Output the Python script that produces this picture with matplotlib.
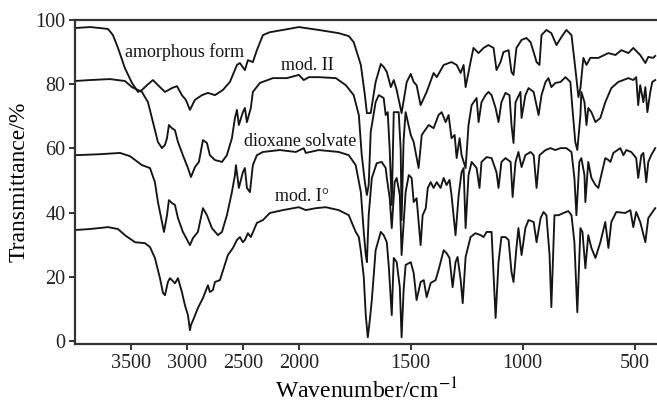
import numpy as np
import matplotlib
matplotlib.use("Agg")
import matplotlib.pyplot as plt
from matplotlib.ticker import FixedLocator

plt.rcParams['font.family'] = ['Liberation Serif', 'DejaVu Serif']
plt.rcParams['mathtext.fontset'] = 'stix'

# IR spectra, wavenumber (cm-1) and transmittance (%)
amorphous_wn = [4000, 3866, 3777, 3705, 3661, 3616, 3554, 3491, 3437, 3402, 3357, 3304, 3241, 3196,
                3134, 3089, 3045, 3009, 2973, 2929, 2866, 2812, 2750, 2679, 2616, 2553, 2527, 2482,
                2455, 2411, 2375, 2321, 2259, 2143, 2000, 1911, 1822, 1777, 1755, 1723, 1705, 1696,
                1679, 1657, 1634, 1621, 1607, 1589, 1576, 1563, 1541, 1518, 1500, 1487, 1474, 1456,
                1429, 1398, 1384, 1353, 1318, 1295, 1277, 1264, 1255, 1233, 1220, 1197, 1175, 1153,
                1130, 1117, 1099, 1086, 1063, 1050, 1041, 1028, 1005, 983, 965, 951, 938, 925, 916,
                894, 872, 849, 827, 805, 782, 765, 751, 742, 729, 715, 698, 662, 617, 586, 559, 528,
                506, 475, 452, 439, 417, 408]
amorphous_t = [97.5, 97.8, 97.5, 97.2, 95.3, 91.3, 85.0, 80.4, 77.6, 78.2, 79.7, 81.3, 79.1, 77.6,
               78.8, 79.4, 76.6, 75.1, 72.0, 75.1, 76.6, 77.3, 76.6, 78.2, 80.7, 86.0, 86.6, 84.4,
               87.5, 86.9, 90.6, 95.3, 96.2, 96.9, 97.8, 96.9, 95.9, 95.0, 93.1, 86.0, 76.6, 71.0,
               71.0, 80.7, 86.3, 85.4, 83.8, 79.1, 81.3, 78.2, 71.0, 80.7, 83.2, 80.7, 79.7, 73.5,
               77.6, 83.5, 82.2, 86.0, 86.9, 86.0, 83.5, 86.0, 79.1, 86.9, 91.3, 89.7, 91.3, 92.2,
               91.3, 84.4, 86.9, 90.0, 90.6, 83.8, 82.9, 91.3, 93.8, 94.4, 93.1, 90.0, 86.9, 86.0,
               95.3, 96.9, 95.9, 92.2, 94.7, 96.9, 95.3, 85.0, 76.0, 78.8, 88.2, 86.0, 88.2, 88.2,
               89.7, 89.1, 90.6, 89.7, 91.3, 89.1, 86.6, 88.5, 88.2, 88.8]

mod2_wn = [4000, 3866, 3688, 3554, 3491, 3402, 3348, 3304, 3259, 3223, 3196, 3178, 3161, 3134, 3107,
           3080, 3036, 2991, 2964, 2928, 2893, 2857, 2821, 2795, 2750, 2687, 2643, 2598, 2571, 2553,
           2536, 2500, 2482, 2464, 2429, 2411, 2348, 2232, 2107, 2000, 1978, 1955, 1911, 1835, 1790,
           1755, 1732, 1719, 1705, 1696, 1688, 1679, 1657, 1643, 1621, 1612, 1603, 1594, 1585, 1576,
           1554, 1545, 1541, 1532, 1523, 1500, 1487, 1465, 1451, 1420, 1398, 1376, 1362, 1344, 1331,
           1318, 1304, 1295, 1282, 1273, 1255, 1242, 1228, 1206, 1197, 1184, 1166, 1153, 1139, 1121,
           1108, 1095, 1077, 1059, 1050, 1041, 1032, 1010, 1005, 988, 974, 951, 929, 916, 898, 885,
           872, 854, 831, 809, 787, 778, 765, 756, 742, 738, 724, 715, 707, 693, 675, 653, 631, 604,
           573, 550, 528, 506, 493, 484, 475, 461, 452, 443, 430, 421, 408]
mod2_t = [81.0, 81.3, 81.6, 81.0, 79.1, 77.6, 74.4, 68.2, 62.0, 60.1, 61.1, 63.2, 67.3, 66.3, 65.7,
          62.0, 57.9, 53.9, 51.1, 54.2, 55.8, 62.6, 61.7, 57.9, 56.4, 55.8, 57.9, 63.2, 69.5, 72.0,
          67.3, 71.3, 72.6, 68.2, 72.6, 77.6, 80.4, 81.9, 81.9, 82.9, 81.3, 82.2, 82.2, 81.9, 79.7,
          76.6, 70.4, 57.9, 49.5, 45.5, 48.6, 65.1, 74.4, 76.6, 75.7, 70.4, 71.3, 59.5, 42.4, 71.3,
          71.3, 59.5, 37.7, 62.6, 71.3, 64.2, 62.0, 53.9, 64.2, 67.3, 66.3, 70.4, 71.3, 68.2, 70.4,
          63.2, 64.2, 57.0, 63.2, 57.9, 53.9, 67.3, 73.5, 75.7, 68.2, 74.4, 76.6, 77.6, 76.6, 72.6,
          68.2, 74.4, 77.3, 76.6, 67.3, 61.7, 74.4, 77.6, 69.5, 76.6, 78.8, 77.6, 70.4, 76.6, 80.7,
          81.9, 79.1, 80.4, 80.7, 82.2, 80.7, 72.6, 62.0, 59.5, 70.4, 77.6, 74.4, 67.3, 72.6, 71.3,
          68.2, 69.5, 74.4, 78.8, 80.7, 81.3, 81.9, 81.3, 82.2, 73.5, 79.7, 74.4, 79.1, 71.3, 77.6,
          80.7, 81.3]

dioxane_wn = [4000, 3777, 3598, 3509, 3402, 3330, 3286, 3259, 3223, 3205, 3178, 3161, 3134, 3107,
              3080, 3036, 2973, 2946, 2902, 2857, 2821, 2777, 2723, 2687, 2643, 2598, 2571, 2562,
              2536, 2500, 2482, 2464, 2437, 2411, 2375, 2321, 2170, 2027, 1978, 1969, 1911, 1822,
              1777, 1746, 1723, 1710, 1701, 1696, 1688, 1674, 1652, 1630, 1612, 1607, 1594, 1585,
              1572, 1563, 1549, 1541, 1523, 1509, 1496, 1487, 1474, 1456, 1447, 1433, 1424, 1411,
              1398, 1384, 1367, 1353, 1340, 1327, 1318, 1300, 1286, 1273, 1264, 1255, 1242, 1228,
              1206, 1193, 1184, 1161, 1139, 1117, 1108, 1095, 1077, 1054, 1045, 1032, 1019, 1005,
              988, 965, 951, 938, 925, 898, 876, 854, 831, 805, 782, 769, 760, 747, 738, 724, 720,
              707, 693, 675, 662, 649, 631, 617, 608, 595, 564, 550, 537, 515, 493, 484, 470, 461,
              448, 439, 426, 408]
dioxane_t = [57.9, 58.2, 58.6, 57.6, 54.8, 53.9, 49.5, 43.3, 37.0, 34.0, 39.2, 43.9, 43.0, 42.4,
             38.3, 34.0, 29.9, 32.1, 34.0, 41.4, 39.2, 35.2, 33.0, 34.0, 39.2, 46.4, 51.7, 54.8,
             47.7, 52.6, 53.9, 47.7, 46.4, 54.8, 57.9, 58.9, 59.5, 58.9, 60.1, 58.6, 59.5, 58.9,
             57.9, 54.8, 46.4, 34.0, 26.8, 24.6, 39.2, 50.8, 55.4, 55.8, 53.9, 50.8, 44.5, 35.2,
             49.5, 50.8, 45.5, 26.8, 46.4, 51.7, 50.8, 43.3, 44.5, 29.9, 39.2, 41.4, 47.7, 49.5,
             47.7, 49.5, 47.7, 50.8, 48.6, 50.2, 45.5, 33.0, 45.5, 52.6, 53.9, 35.2, 51.7, 55.8,
             53.9, 47.7, 55.8, 57.3, 57.0, 52.6, 47.7, 55.8, 57.0, 55.8, 44.9, 55.8, 58.9, 54.2,
             57.9, 58.9, 57.9, 47.7, 57.9, 59.5, 60.1, 59.5, 60.1, 60.1, 58.9, 50.8, 39.2, 55.8,
             57.0, 51.7, 43.3, 55.8, 50.8, 48.6, 47.7, 51.7, 57.0, 56.4, 55.8, 58.6, 60.1, 57.9,
             59.5, 58.9, 57.0, 50.8, 57.9, 58.6, 49.5, 55.8, 57.9, 60.1]

mod1_wn = [4000, 3866, 3705, 3616, 3554, 3464, 3375, 3330, 3286, 3241, 3214, 3196, 3170, 3152,
           3134, 3107, 3080, 3045, 3018, 2991, 2973, 2964, 2937, 2902, 2857, 2812, 2795, 2768,
           2750, 2705, 2634, 2589, 2553, 2527, 2500, 2482, 2455, 2429, 2375, 2321, 2259, 2143,
           2000, 1969, 1924, 1880, 1822, 1777, 1746, 1732, 1723, 1710, 1701, 1692, 1683, 1674,
           1657, 1634, 1621, 1607, 1598, 1585, 1576, 1563, 1549, 1541, 1532, 1523, 1500, 1487,
           1474, 1456, 1442, 1429, 1411, 1389, 1376, 1353, 1340, 1327, 1313, 1300, 1291, 1277,
           1268, 1255, 1233, 1211, 1188, 1175, 1161, 1139, 1121, 1108, 1095, 1077, 1063, 1050,
           1041, 1028, 1019, 1005, 988, 974, 951, 938, 920, 907, 894, 880, 872, 858, 840, 818,
           796, 782, 769, 756, 742, 733, 720, 707, 693, 675, 653, 631, 617, 604, 582, 542, 519,
           506, 493, 475, 452, 439, 408]
mod1_t = [34.6, 34.9, 35.5, 34.9, 33.0, 30.8, 30.5, 29.3, 25.9, 19.6, 15.0, 14.3, 18.4, 19.6,
          19.0, 18.0, 19.6, 15.3, 11.2, 8.1, 3.4, 5.0, 7.2, 10.3, 13.4, 17.4, 15.3, 15.9,
          18.4, 19.0, 26.8, 29.0, 31.5, 32.4, 30.8, 31.5, 33.6, 32.4, 36.8, 37.7, 39.9, 40.8,
          41.7, 40.8, 41.4, 41.7, 40.8, 39.2, 34.0, 32.4, 28.0, 20.0, 8.0, 1.2, 6.5, 12.8,
          28.3, 34.0, 33.0, 30.8, 23.1, 8.1, 25.9, 24.6, 16.8, 1.2, 15.9, 23.7, 24.6, 21.2,
          12.8, 18.4, 19.0, 13.7, 18.1, 19.0, 22.1, 28.3, 27.4, 25.9, 16.8, 24.6, 26.2, 19.0,
          11.8, 26.2, 32.4, 33.6, 33.0, 32.4, 34.0, 34.0, 7.2, 24.6, 32.4, 32.4, 31.5, 21.5,
          18.4, 29.0, 35.2, 26.8, 35.2, 37.7, 37.1, 30.8, 38.3, 40.2, 39.2, 26.8, 10.6, 39.2,
          39.2, 39.9, 40.5, 39.2, 30.8, 9.0, 35.2, 34.0, 22.7, 33.0, 29.0, 25.9, 30.8, 37.1,
          29.0, 37.1, 40.2, 39.9, 40.8, 35.5, 40.2, 37.1, 30.8, 38.3, 41.4]

labels = ['amorphous form', 'mod. II', 'dioxane solvate', 'mod. I°']
label_pos = [(3018, 90.0), (1960, 85.8), (1996, 62.3), (1987, 44.9)]


# wavenumber axis is compressed 2:1 above 2000 cm-1
def fwd(w):
    w = np.asarray(w, dtype=float)
    return np.where(w > 2000, w, 2 * w - 2000)


def inv(t):
    t = np.asarray(t, dtype=float)
    return np.where(t > 2000, t, (t + 2000) / 2)


fig = plt.figure(figsize=(6.57, 4.08), dpi=100)
ax = fig.add_axes([75 / 657, 64 / 408, 582 / 657, 324 / 408])
ax.set_xscale('function', functions=(fwd, inv))

for wn, t in [(amorphous_wn, amorphous_t), (mod2_wn, mod2_t),
              (dioxane_wn, dioxane_t), (mod1_wn, mod1_t)]:
    ax.plot(wn, t, color='#151515', lw=1.35, solid_joinstyle='round')

for text, (x, y) in zip(labels, label_pos):
    ax.text(x, y, text, fontsize=13, ha='center', va='center', color='#151515')

ax.set_xlim(4000, 400)
ax.set_ylim(-0.9, 100)
ax.xaxis.set_major_locator(FixedLocator([3500, 3000, 2500, 2000, 1500, 1000, 500]))
ax.xaxis.set_minor_locator(FixedLocator([]))
ax.set_yticks([0, 20, 40, 60, 80, 100])
ax.tick_params(direction='out', length=4, width=1.3, labelsize=14.5, colors='#222222', pad=3)

for side in ['left', 'bottom', 'top']:
    ax.spines[side].set_linewidth(1.6)
    ax.spines[side].set_color('#333333')
ax.spines['right'].set_visible(False)

ax.set_xlabel('Wavenumber/cm$^{-1}$', fontsize=17, labelpad=4)
ax.set_ylabel('Transmittance/%', fontsize=17, labelpad=4)

fig.savefig('out.png', dpi=100)
